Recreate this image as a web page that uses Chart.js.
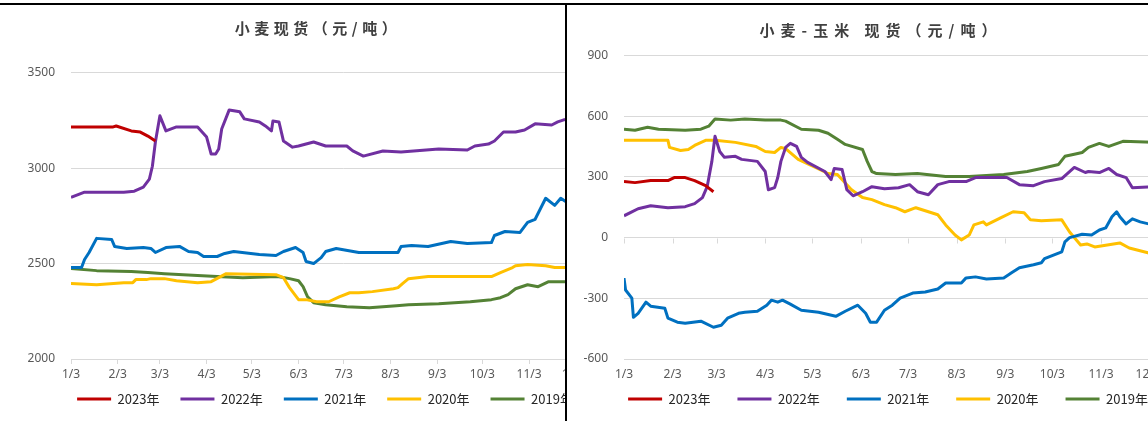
<!DOCTYPE html>
<html>
<head>
<meta charset="utf-8">
<script src="https://cdn.jsdelivr.net/npm/chart.js@4.4.0/dist/chart.umd.min.js"></script>
<style>
  body { margin: 0; background: #fff; }
  #page { position: relative; width: 1148px; height: 421px; overflow: hidden; background: #fff; }
  .panel { position: absolute; top: 0; height: 421px; overflow: hidden; }
  .panel canvas { display: block; }
  #leftPanel { left: 0; width: 566px; }
  #rightPanel { left: 566px; width: 582px; }
  #topLine { position: absolute; left: 0; top: 3px; width: 1148px; height: 2px; background: #000; }
  #midLine { position: absolute; left: 565px; top: 3px; width: 2px; height: 418px; background: #000; }
</style>
</head>
<body>
<div id="page">
  <div class="panel" id="leftPanel"><canvas id="wheatChart" width="636" height="421"></canvas></div>
  <div class="panel" id="rightPanel"><canvas id="spreadChart" width="630" height="421"></canvas></div>
  <div id="topLine"></div>
  <div id="midLine"></div>
</div>
<script>
// x values are day of year
const tickDays = [3, 34, 62, 93, 123, 154, 184, 215, 246, 276, 307, 337];
const tickLabels = ["1/3", "2/3", "3/3", "4/3", "5/3", "6/3", "7/3", "8/3", "9/3", "10/3", "11/3", "12/3"];
const yearLabels = ["2023年", "2022年", "2021年", "2020年", "2019年"];

// 小麦现货
const wheatDays2023 = [3, 31, 33, 43, 49, 54, 59];
const wheat2023 = [3216, 3216, 3221, 3195, 3189, 3168, 3142];
const wheatDays2022 = [3, 12, 38, 45, 51, 55, 57, 59, 62, 66, 73, 87, 93, 96, 99, 101, 103, 108, 115, 118, 128, 132, 136, 137, 141, 144, 150, 154, 164, 172, 186, 190, 197, 210, 222, 247, 266, 271, 280, 284, 290, 298, 304, 311, 322, 326, 330, 340];
const wheat2022 = [2847, 2874, 2874, 2879, 2900, 2942, 3010, 3137, 3274, 3195, 3216, 3216, 3163, 3074, 3074, 3100, 3205, 3305, 3295, 3258, 3242, 3221, 3195, 3247, 3242, 3142, 3110, 3116, 3137, 3116, 3116, 3090, 3063, 3090, 3084, 3100, 3095, 3116, 3126, 3142, 3189, 3189, 3200, 3232, 3226, 3242, 3253, 3258];
const wheatDays2021 = [3, 10, 12, 15, 20, 30, 32, 40, 51, 56, 59, 66, 75, 81, 87, 91, 100, 105, 111, 128, 139, 144, 152, 157, 159, 164, 169, 172, 179, 194, 220, 222, 229, 240, 255, 266, 282, 284, 291, 301, 306, 311, 318, 324, 328, 331, 340];
const wheat2021 = [2479, 2479, 2521, 2558, 2632, 2626, 2589, 2579, 2584, 2579, 2558, 2584, 2590, 2563, 2558, 2537, 2537, 2553, 2563, 2547, 2542, 2563, 2584, 2558, 2511, 2500, 2531, 2563, 2579, 2558, 2558, 2589, 2595, 2589, 2616, 2605, 2610, 2647, 2668, 2663, 2716, 2732, 2842, 2805, 2842, 2826, 2826];
const wheatDays2020 = [3, 20, 38, 44, 46, 53, 56, 65, 73, 87, 96, 101, 106, 139, 144, 148, 154, 159, 166, 174, 181, 188, 194, 203, 217, 220, 223, 227, 240, 282, 288, 296, 298, 306, 318, 324, 340];
const wheat2020 = [2395, 2389, 2400, 2400, 2416, 2416, 2421, 2421, 2410, 2400, 2405, 2426, 2447, 2442, 2426, 2374, 2311, 2311, 2300, 2300, 2326, 2347, 2347, 2353, 2368, 2374, 2395, 2421, 2432, 2432, 2453, 2479, 2489, 2495, 2489, 2479, 2479];
const wheatDays2019 = [3, 20, 43, 54, 65, 87, 100, 117, 140, 148, 154, 157, 160, 164, 172, 186, 201, 219, 227, 247, 268, 282, 288, 293, 298, 306, 313, 320, 340];
const wheat2019 = [2474, 2463, 2458, 2453, 2447, 2437, 2432, 2426, 2432, 2421, 2410, 2379, 2326, 2295, 2284, 2274, 2268, 2279, 2284, 2289, 2300, 2311, 2321, 2337, 2368, 2389, 2379, 2405, 2405];

// 小麦-玉米 现货
const spreadDays2023 = [3, 10, 20, 31, 35, 42, 48, 55, 60];
const spread2023 = [277, 272, 282, 282, 297, 297, 282, 257, 227];
const spreadDays2022 = [3, 8, 12, 20, 31, 42, 48, 53, 56, 59, 61, 64, 67, 74, 78, 88, 93, 95, 99, 101, 103, 106, 109, 113, 116, 120, 131, 135, 137, 142, 145, 149, 155, 161, 169, 178, 185, 190, 197, 203, 210, 221, 227, 247, 255, 264, 271, 282, 290, 297, 299, 306, 312, 317, 323, 327, 340];
const spread2022 = [108, 127, 143, 158, 148, 153, 168, 198, 252, 377, 501, 426, 397, 402, 387, 377, 327, 237, 247, 297, 377, 446, 466, 451, 397, 372, 327, 287, 342, 337, 237, 207, 227, 252, 242, 247, 262, 227, 212, 262, 277, 277, 297, 297, 262, 257, 277, 292, 347, 322, 327, 322, 342, 312, 297, 247, 252];
const spreadDays2021 = [3, 4, 8, 9, 12, 17, 20, 29, 31, 37, 42, 52, 60, 65, 69, 76, 80, 88, 94, 97, 101, 104, 109, 116, 127, 138, 144, 152, 157, 160, 164, 169, 174, 179, 187, 195, 203, 208, 218, 221, 227, 234, 245, 250, 255, 264, 269, 271, 282, 284, 287, 295, 301, 306, 310, 314, 317, 319, 323, 327, 332, 340];
const spread2021 = [-200, -259, -299, -394, -374, -319, -339, -349, -398, -418, -423, -413, -443, -433, -398, -374, -369, -364, -334, -309, -319, -309, -329, -359, -369, -389, -364, -334, -374, -418, -418, -359, -334, -299, -274, -269, -254, -224, -224, -199, -194, -204, -199, -174, -149, -134, -124, -104, -70, -21, 0, 17, 13, 38, 48, 103, 128, 103, 68, 93, 78, 63];
const spreadDays2020 = [3, 31, 32, 39, 44, 48, 55, 61, 74, 87, 93, 99, 103, 106, 114, 125, 133, 139, 148, 155, 161, 169, 176, 182, 189, 195, 203, 208, 214, 218, 223, 226, 232, 234, 243, 251, 258, 262, 269, 282, 287, 294, 298, 303, 319, 325, 340];
const spread2020 = [481, 481, 446, 431, 436, 456, 481, 481, 471, 451, 426, 421, 446, 440, 387, 347, 317, 312, 237, 198, 188, 163, 148, 128, 148, 133, 113, 63, 13, -11, 13, 63, 78, 63, 98, 128, 123, 88, 83, 88, 28, -36, -31, -46, -26, -51, -81];
const spreadDays2019 = [3, 10, 18, 25, 42, 52, 57, 61, 71, 80, 93, 103, 106, 116, 127, 133, 139, 144, 155, 158, 161, 164, 176, 190, 208, 223, 245, 260, 269, 280, 284, 290, 295, 299, 306, 312, 321, 340];
const spread2019 = [536, 531, 546, 536, 531, 536, 551, 586, 581, 586, 581, 581, 576, 536, 531, 516, 486, 461, 436, 377, 327, 317, 312, 317, 302, 302, 312, 327, 342, 362, 402, 412, 421, 446, 466, 451, 476, 471];

const yearColors = ["#C00000", "#7030A0", "#0070C0", "#FFC000", "#548235"];
const tickColor = "#595959";
const gridColor = "#d9d9d9";
const cjkFont = "'Noto Sans CJK SC', 'Noto Sans', sans-serif";

function seriesData(days, values) {
  return days.map((d, i) => ({ x: d, y: values[i] }));
}

function makeDatasets(pairs) {
  return pairs.map((p, i) => ({
    label: yearLabels[i],
    data: seriesData(p[0], p[1]),
    borderColor: yearColors[i],
    backgroundColor: yearColors[i],
    borderWidth: 3,
    borderCapStyle: "butt",
    borderJoinStyle: "round",
    pointRadius: 0,
    tension: 0
  }));
}

// title with wider letter spacing, like the Excel title
const spacedTitle = {
  id: "spacedTitle",
  beforeDraw(chart, args, opts) {
    const t = chart.titleBlock;
    if (!t || t._spaced) return;
    const draw = t.draw;
    t.draw = function (area) {
      chart.ctx.save();
      chart.ctx.letterSpacing = opts.spacing + "px";
      draw.call(this, area);
      chart.ctx.restore();
    };
    t._spaced = true;
  }
};

// legend sits a bit closer to the axis labels than chart.js would put it
const legendShift = {
  id: "legendShift",
  afterLayout(chart, args, opts) {
    const lg = chart.legend;
    if (!lg) return;
    lg.top -= opts.up;
    lg.bottom -= opts.up;
    lg.left += opts.right;
    lg.right += opts.right;
  }
};

// tick marks on the zero line of the spread chart
const zeroAxisTicks = {
  id: "zeroAxisTicks",
  beforeDatasetsDraw(chart) {
    const { ctx, scales } = chart;
    const y0 = Math.round(scales.y.getPixelForValue(0)) + 0.5;
    ctx.save();
    ctx.strokeStyle = gridColor;
    ctx.lineWidth = 1;
    ctx.beginPath();
    scales.x.ticks.forEach((t) => {
      const px = Math.round(scales.x.getPixelForValue(t.value)) + 0.5;
      ctx.moveTo(px, y0);
      ctx.lineTo(px, y0 + 5);
    });
    ctx.stroke();
    ctx.restore();
  }
};

function makeChart(canvasId, cfg) {
  const plugins = [spacedTitle, legendShift];
  if (cfg.zeroTicks) plugins.push(zeroAxisTicks);
  return new Chart(document.getElementById(canvasId), {
    type: "line",
    data: { datasets: makeDatasets(cfg.series) },
    plugins,
    options: {
      responsive: false,
      animation: false,
      devicePixelRatio: 1,
      layout: { padding: { left: cfg.pad, right: cfg.pad, top: 0, bottom: 0 } },
      scales: {
        x: {
          type: "linear",
          min: 3,
          max: 365,
          afterBuildTicks(scale) {
            scale.ticks = tickDays.map((v) => ({ value: v }));
          },
          ticks: {
            autoSkip: false,
            maxRotation: 0,
            padding: cfg.zeroTicks ? 8 : 3,
            color: tickColor,
            font: { size: 12, family: "'Noto Sans', sans-serif" },
            callback: (v) => tickLabels[tickDays.indexOf(v)]
          },
          grid: { drawOnChartArea: false, drawTicks: !cfg.zeroTicks, tickLength: 5, color: gridColor },
          border: { display: !cfg.zeroTicks, color: gridColor },
          afterFit(scale) { scale.height = 22; }
        },
        y: {
          min: cfg.yMin,
          max: cfg.yMax,
          ticks: {
            stepSize: cfg.yStep,
            padding: 16,
            color: tickColor,
            font: { size: 12, family: "'Noto Sans', sans-serif" },
            callback: (v) => String(v)
          },
          grid: { color: gridColor, drawTicks: false },
          border: { display: false },
          afterFit(scale) { scale.width = cfg.yWidth; }
        }
      },
      plugins: {
        tooltip: { enabled: false },
        spacedTitle: { spacing: cfg.spacing },
        legendShift: { up: cfg.legendPad - 11.5, right: 7 },
        title: {
          display: true,
          text: cfg.title,
          color: "#404040",
          font: { size: 15, weight: "bold", family: cjkFont, lineHeight: 1.2 },
          padding: cfg.titlePad
        },
        legend: {
          position: "bottom",
          maxHeight: 40,
          labels: {
            usePointStyle: true,
            pointStyle: "line",
            pointStyleWidth: 34,
            padding: cfg.legendPad,
            color: "#262626",
            font: { size: 13, family: cjkFont }
          }
        }
      }
    }
  });
}

makeChart("wheatChart", {
  title: "小麦现货（元/吨）",
  series: [[wheatDays2023, wheat2023], [wheatDays2022, wheat2022], [wheatDays2021, wheat2021], [wheatDays2020, wheat2020], [wheatDays2019, wheat2019]],
  yMin: 2000, yMax: 3500, yStep: 500,
  pad: 19.5, yWidth: 51.5,
  titlePad: { top: 19.7, bottom: 35 },
  legendPad: 21, spacing: 4.5, zeroTicks: false
});

makeChart("spreadChart", {
  title: "小麦-玉米 现货（元/吨）",
  series: [[spreadDays2023, spread2023], [spreadDays2022, spread2022], [spreadDays2021, spread2021], [spreadDays2020, spread2020], [spreadDays2019, spread2019]],
  yMin: -600, yMax: 900, yStep: 300,
  pad: 4, yWidth: 54,
  titlePad: { top: 21.4, bottom: 16.2 },
  legendPad: 27, spacing: 6, zeroTicks: true
});
</script>
</body>
</html>
